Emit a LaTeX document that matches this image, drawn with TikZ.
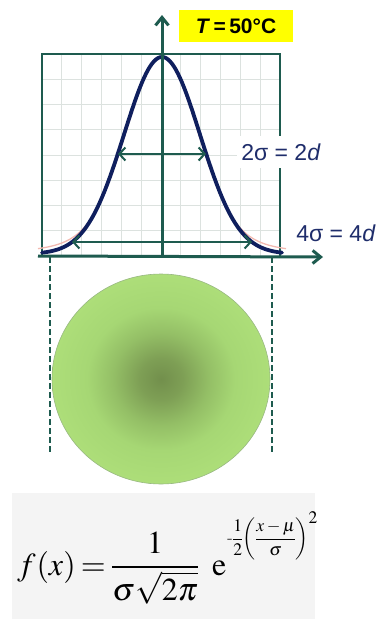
\documentclass[tikz,border=0pt]{standalone}
\usepackage{amsmath}
\usepackage{graphicx}
\usepackage{mathptmx}
\usepackage[no-math]{fontspec}
\newfontfamily\arial{Liberation Sans}
\usetikzlibrary{arrows.meta}
\definecolor{axisgreen}{HTML}{1E5B4F}
\definecolor{navycurve}{HTML}{0F1F5E}
\definecolor{labelnavy}{HTML}{1F2D6B}
\definecolor{gridgray}{HTML}{DCE2DF}
\definecolor{pinkcurve}{HTML}{F2B9B0}
\definecolor{gcenter}{HTML}{728F4C}
\definecolor{gin}{HTML}{7E9F55}
\definecolor{gmid}{HTML}{94BF66}
\definecolor{gout}{HTML}{A6D774}
\definecolor{gedge}{HTML}{ADDE79}
\definecolor{gborder}{HTML}{98B882}
\definecolor{formulabg}{HTML}{F4F4F4}
\definecolor{titleyellow}{HTML}{FFFF00}
\pgfdeclareradialshading{greenball}{\pgfpoint{0bp}{0bp}}{color(0bp)=(gcenter); color(5bp)=(gin); color(11bp)=(gmid); color(17bp)=(gout); color(25bp)=(gedge); color(50bp)=(gedge)}
\tikzset{
  axisline/.style={draw=axisgreen, line width=3pt, -{Straight Barb[length=8pt,width=13pt,line width=3pt]}},
  sigarrow/.style={draw=axisgreen, line width=2pt, {Straight Barb[length=6pt,width=13pt,line width=2pt]}-{Straight Barb[length=6pt,width=13pt,line width=2pt]}},
  dashline/.style={draw=axisgreen, line width=2pt, dash pattern=on 6pt off 3pt},
  siglabel/.style={fill=white, text=labelnavy, font=\arial\fontsize{23}{26}\selectfont, inner xsep=4pt, inner ysep=8pt},
}
\begin{document}
\begin{tikzpicture}[x=1pt,y=-1pt]
\useasboundingbox (0,0) rectangle (383,619);
% formula background
\fill[formulabg] (12,493) rectangle (315,619);
% grid
\foreach \i in {1,...,11} {\draw[gridgray, line width=0.9pt] ({42+\i*19.83},54) -- ({42+\i*19.83},256);}
\foreach \j in {1,...,7} {\draw[gridgray, line width=0.9pt] (42,{54+\j*25.25}) -- (280,{54+\j*25.25});}
\draw[axisgreen, line width=1.2pt] (42,256) -- (42,54) -- (280,54) -- (280,256);
% labels
\node[siglabel] (lab2) at (281,152) {2σ = 2\textit{d}};
\node[siglabel] (lab4) at (336,233) {4σ = 4\textit{d}};
% title
\node[fill=titleyellow, minimum width=114pt, minimum height=32pt, inner sep=0pt, font=\arial\bfseries\fontsize{21}{24}\selectfont] (title) at (236,26) {\textit{T}\,=\,50°C};
% curves
\draw[pinkcurve, line width=1.3pt] plot[domain=-124:124, samples=121] ({162+\x},{254-197*(0.9*exp(-(\x)*(\x)/(2*35*35))+0.1*exp(-(\x)*(\x)/(2*75*75)))});
\draw[navycurve, line width=3.8pt, line cap=round] plot[domain=-120:120, samples=121] ({162+\x},{254-197*exp(-(\x)*(\x)/(2*38*38))});
% axes
\coordinate (o) at (162,256);
\coordinate (xl) at (38,256);
\coordinate (xr) at (323,257);
\coordinate (yt) at (162,15);
\draw[axisline] (xl) -- (xr);
\draw[axisline] (o) -- (yt);
% sigma arrows
\coordinate (s2l) at (118,154);
\coordinate (s2r) at (206,154);
\coordinate (s4l) at (72,242);
\coordinate (s4r) at (252,242);
\draw[sigarrow] (s2l) -- (s2r);
\draw[sigarrow] (s4l) -- (s4r);
% disc
\shade[shading=greenball] (161,379) ellipse [x radius=109, y radius=105];
\draw[draw=gborder, line width=0.6pt] (161,379) ellipse [x radius=109, y radius=105];
% dashed lines
\coordinate (d1t) at (50,257);
\coordinate (d1b) at (50,452);
\coordinate (d2t) at (272,257);
\coordinate (d2b) at (272,452);
\draw[dashline] (d1t) -- (d1b);
\draw[dashline] (d2t) -- (d2b);
% formula
\node[anchor=base west, inner sep=0pt, font=\fontsize{32}{38}\selectfont] (formula) at (17,575) {\thickmuskip=3mu$f\kern1pt(x)=\dfrac{1}{\sigma\sqrt{2\pi}}\kern13pt\mathrm{e}\kern1pt\raisebox{31.5pt}{\scalebox{0.55}{$\displaystyle\text{-}\frac{1}{2}\biggl(\frac{x-\mu}{\sigma}\biggr)^{\textstyle 2}$}}$};
\end{tikzpicture}
\end{document}
